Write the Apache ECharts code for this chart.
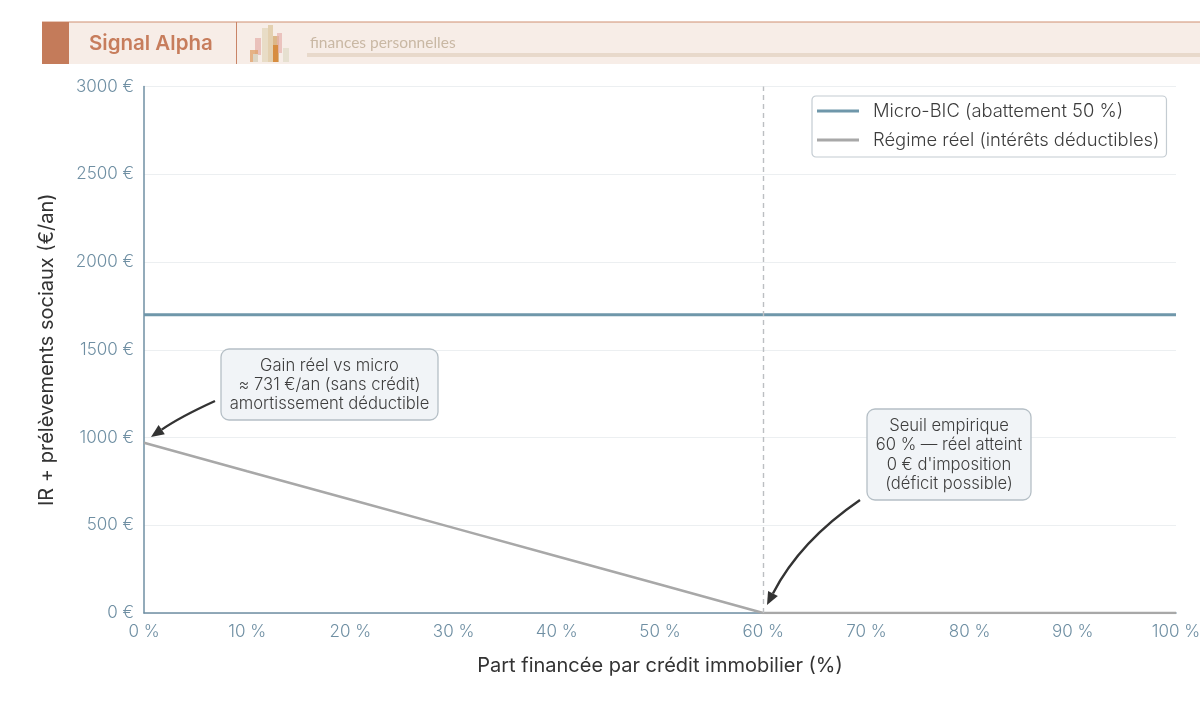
<!DOCTYPE html>
<html><head><meta charset="utf-8">
<script src="https://cdn.jsdelivr.net/npm/echarts@6/dist/echarts.min.js"></script>
<style>html,body{margin:0;padding:0;background:#fff}#c{width:1200px;height:721px}</style></head>
<body><div id="c"></div>
<script>
const sharePct = [0,10,20,30,40,50,60,70,80,90,100];
const microBic = [1700,1700,1700,1700,1700,1700,1700,1700,1700,1700,1700];
const regimeReel = [970,808,647,485,323,162,0,0,0,0,0];
const seuil = 60;
const F = 'Inter';
const tick = '#6f8fa3', ink = '#333333';
const chart = echarts.init(document.getElementById('c'), null, {renderer:'canvas'});
const bar = (x,y,w,h,fill,op)=>({type:'rect',shape:{x,y,width:w,height:h},style:{fill,opacity:op},silent:true});
const box = (x,y,w,h,text)=>[
 {type:'rect',z:20,shape:{x,y,width:w,height:h,r:8},style:{fill:'#f1f4f7',stroke:'#b5bfc6',lineWidth:1.3}},
 {type:'text',z:21,style:{x:x+w/2,y:y+h/2+0.5,text,fill:'#3d3d3d',font:'300 16.6px '+F,align:'center',verticalAlign:'middle',lineHeight:19.3}}
];
const arrow = (x1,y1,cx,cy,x2,y2)=>{
 const a=Math.atan2(y2-cy,x2-cx),L=13,W=5.5;
 const bx=x2-L*Math.cos(a),by=y2-L*Math.sin(a),nx=-Math.sin(a),ny=Math.cos(a);
 return [
  {type:'bezierCurve',z:20,shape:{x1,y1,cpx1:cx,cpy1:cy,x2:bx,y2:by},style:{stroke:'#333',lineWidth:2.4,fill:null}},
  {type:'polygon',z:20,shape:{points:[[x2,y2],[bx+nx*W,by+ny*W],[bx-nx*W,by-ny*W]]},style:{fill:'#333'}}
 ];
};
chart.setOption({
 animation:false,
 backgroundColor:'#fff',
 textStyle:{fontFamily:F},
 grid:{left:144,right:24,top:86.5,bottom:108,containLabel:false,outerBoundsMode:'none'},
 legend:{
  orient:'vertical',left:812,top:96,padding:[4,7,6,5],itemGap:7,itemWidth:42,itemHeight:3,
  backgroundColor:'#fff',borderColor:'#c4ccd2',borderWidth:1.2,borderRadius:4,
  icon:'rect',
  textStyle:{fontFamily:F,fontWeight:300,fontSize:18.4,color:'#3d3d3d',padding:[0,0,0,9],lineHeight:22},
  data:['Micro-BIC (abattement 50 %)','Régime réel (intérêts déductibles)']
 },
 xAxis:{type:'value',min:0,max:100,interval:10,
  name:'Part financée par crédit immobilier (%)',nameLocation:'middle',nameGap:43,
  nameTextStyle:{fontFamily:F,fontWeight:400,fontSize:20,color:ink},
  axisLine:{show:true,lineStyle:{color:'#6f8fa3',width:1.5}},
  axisTick:{show:false},splitLine:{show:false},
  axisLabel:{formatter:v=>v+' %',fontFamily:F,fontWeight:300,fontSize:17,color:tick,margin:10}},
 yAxis:{type:'value',min:0,max:3000,interval:500,
  name:'IR + prélèvements sociaux (€/an)',nameLocation:'middle',nameGap:87,
  nameTextStyle:{fontFamily:F,fontWeight:400,fontSize:20,color:ink},
  axisLine:{show:true,lineStyle:{color:'#6f8fa3',width:1.5}},
  axisTick:{show:false},
  splitLine:{show:true,lineStyle:{color:'#eceff1',width:1}},
  axisLabel:{formatter:v=>v+' €',fontFamily:F,fontWeight:300,fontSize:17,color:tick,margin:10,padding:[2,0,0,0]}},
 series:[
  {name:'Micro-BIC (abattement 50 %)',type:'line',showSymbol:false,z:3,
   data:sharePct.map((x,i)=>[x,microBic[i]]),lineStyle:{color:'#6f97aa',width:3},itemStyle:{color:'#6f97aa'},
   markLine:{silent:true,symbol:'none',label:{show:false},
    lineStyle:{color:'#bcbfc2',type:[5,4],width:1.4},data:[{xAxis:seuil}]}},
  {name:'Régime réel (intérêts déductibles)',type:'line',showSymbol:false,z:4,
   data:sharePct.map((x,i)=>[x,regimeReel[i]]),lineStyle:{color:'#a8a8a8',width:2.5},itemStyle:{color:'#a8a8a8'}}
 ],
 graphic:[
  {type:'group',silent:true,children:[
   bar(42,22,1158,42,'#f7ede7',1),
   bar(42,21.5,1158,1,'#cf8f72',1),
   bar(42,22,27,42,'#c47b5a',1),
   bar(236,22,1,42,'#c98467',1),
   {type:'text',style:{x:89,y:43.5,text:'Signal Alpha',fill:'#c77d5c',font:'600 20.5px Inter',align:'left',verticalAlign:'middle'}},
   bar(255,38,6,17,'#e6b1ac',.75),
   bar(250,50,8,12,'#e0a26e',.8),
   bar(253,54,5,8,'#dcd8cb',.9),
   bar(262,28,6,34,'#e8dcc6',1),
   bar(268,25,5,37,'#e3d0b0',1),
   bar(273,36,6,26,'#dcb788',1),
   bar(277,33,5,20,'#e6b1ac',.7),
   bar(273,45,5,17,'#d68a3c',.95),
   bar(283,48,6,14,'#e6e0d0',1),
   {type:'text',style:{x:310,y:43,text:'finances personnelles',fill:'#c9b8a4',font:'400 15.5px Lato',align:'left',verticalAlign:'middle'}},
   bar(307,53,893,4,'#e8d9cb',1)
  ]},
  {type:'group',silent:true,children:[
   ...box(221,349,217,71,'Gain réel vs micro\n≈ 731 €/an (sans crédit)\namortissement déductible'),
   ...box(867,409,164,91,"Seuil empirique\n60 % — réel atteint\n0 € d'imposition\n(déficit possible)"),
   ...arrow(215,401,180,417,151,437),
   ...arrow(860,500,800,541,767,605)
  ]}
 ]
});
</script></body></html>
